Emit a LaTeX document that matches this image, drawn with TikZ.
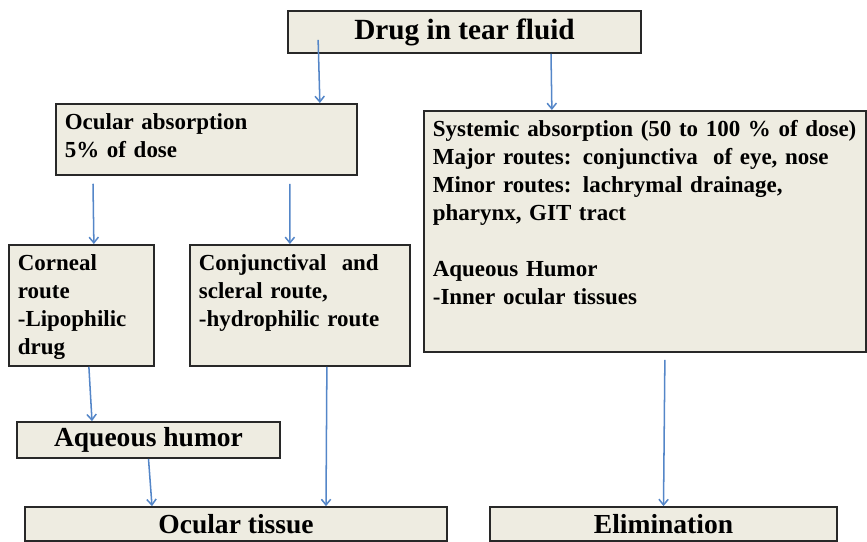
\documentclass[tikz,border=0pt]{standalone}
\usepackage{fontspec}
\setmainfont{Liberation Serif}
\usepackage{tikz}
\usetikzlibrary{arrows.meta,positioning}
\definecolor{boxfill}{RGB}{238,236,225}
\definecolor{boxline}{RGB}{40,40,40}
\definecolor{flowblue}{RGB}{84,134,200}

\begin{document}
\begin{tikzpicture}[
    box/.style={draw=boxline, line width=1.5pt, fill=boxfill, inner sep=0pt, align=center,
                font=\fontsize{23.5}{28}\selectfont\bfseries},
    topbox/.style={draw=boxline, line width=1.5pt, fill=boxfill, anchor=north west, align=left,
                   inner xsep=0.27cm, inner ysep=0.3cm, text height=0.48cm,
                   font=\fontsize{19.6}{23.9}\selectfont\bfseries},
    flow/.style={-{Straight Barb[length=1.7mm,width=2.8mm]}, line width=1.3pt, flowblue},
]
    \useasboundingbox (0,0) rectangle (26.01,-16.26);

    \node[box, minimum width=10.59cm, minimum height=1.26cm,
          font=\fontsize{25}{30}\selectfont\bfseries] (tear) at (13.935,-0.96) {Drug in tear fluid};
    \node[topbox, text width=8.49cm, text depth=1.05cm] (ocular) at (1.65,-3.09)
        {Ocular absorption\\5\% of dose};
    \node[topbox, text width=12.72cm, text depth=6.15cm] (systemic) at (12.69,-3.30)
        {Systemic absorption (50 to 100 \% of dose)\\
         Major routes: conjunctiva~ of eye, nose\\
         Minor routes: lachrymal drainage,\\
         pharynx, GIT tract\\[23.9pt]
         Aqueous Humor\\
         -Inner ocular tissues};
    \node[topbox, text width=3.81cm, text depth=2.55cm] (corneal) at (0.24,-7.32)
        {Corneal\\route\\-Lipophilic\\drug};
    \node[topbox, text width=6.06cm, text depth=2.55cm] (conjunct) at (5.67,-7.32)
        {Conjunctival~ and\\scleral route,\\-hydrophilic route};
    \node[box, minimum width=7.89cm, minimum height=1.08cm] (aqhumor) at (4.455,-13.2) {Aqueous humor};
    \node[box, minimum width=12.66cm, minimum height=1.02cm] (tissue) at (7.08,-15.72) {Ocular tissue};
    \node[box, minimum width=10.41cm, minimum height=1.02cm] (elim) at (19.905,-15.72) {Elimination};

    \draw[flow] ([xshift=0.93cm,yshift=0.42cm]tear.south west) -- ([xshift=3.405cm]ocular.north);
    \draw[flow] ([xshift=2.595cm]tear.south) -- ([xshift=-2.79cm]systemic.north);
    \draw[flow] ([xshift=1.14cm,yshift=-0.24cm]ocular.south west) -- ([xshift=0.375cm]corneal.north);
    \draw[flow] ([xshift=2.505cm,yshift=-0.24cm]ocular.south) -- ([xshift=-0.3cm]conjunct.north);
    \draw[flow] ([xshift=0.225cm]corneal.south) -- ([xshift=-1.695cm]aqhumor.north);
    \draw[flow] (aqhumor.south) -- ([xshift=-2.52cm]tissue.north);
    \draw[flow] ([xshift=0.81cm]conjunct.south) -- ([xshift=2.7cm]tissue.north);
    \draw[flow] ([xshift=0.6cm,yshift=-0.21cm]systemic.south) -- (elim.north);
\end{tikzpicture}
\end{document}
